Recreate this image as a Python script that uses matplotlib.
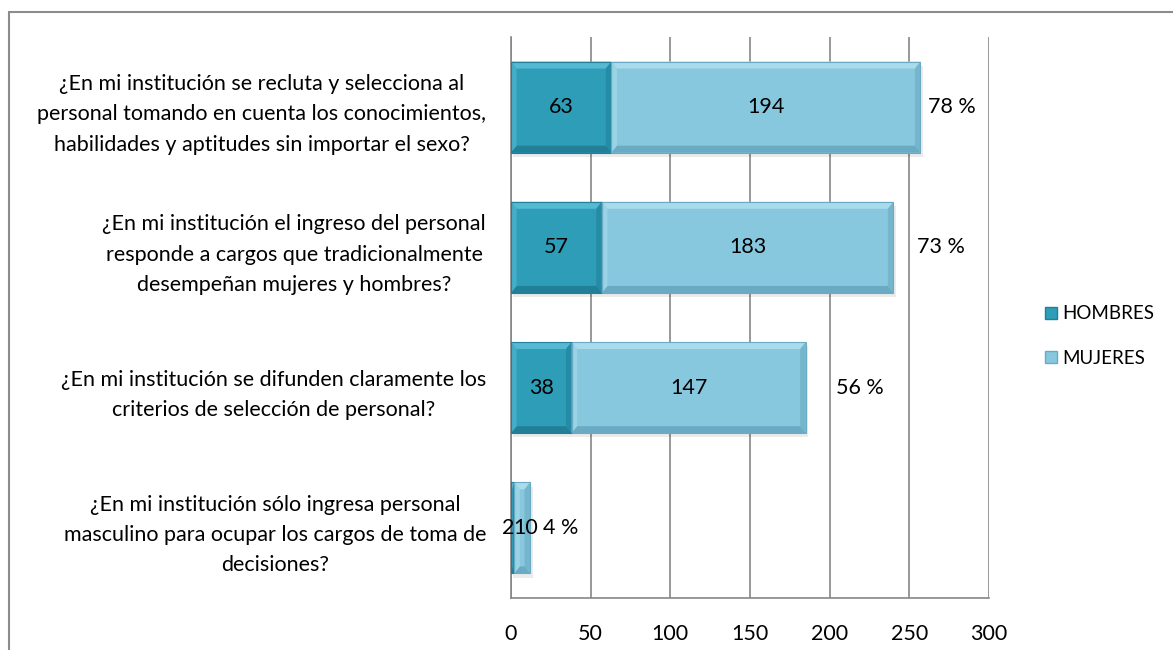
import matplotlib
matplotlib.use("Agg")
import matplotlib.pyplot as plt
from matplotlib.patches import Rectangle, Polygon, Patch
import numpy as np

categories = [
    "¿En mi institución se recluta y selecciona al\npersonal tomando en cuenta los conocimientos,\nhabilidades y aptitudes sin importar el sexo?",
    "¿En mi institución el ingreso del personal\nresponde a cargos que tradicionalmente\ndesempeñan mujeres y hombres?",
    "¿En mi institución se difunden claramente los\ncriterios de selección de personal?",
    "¿En mi institución sólo ingresa personal\nmasculino para ocupar los cargos de toma de\ndecisiones?",
]
hombres = [63, 57, 38, 2]
mujeres = [194, 183, 147, 10]
porcentajes = ["78 %", "73 %", "56 %", "4 %"]
pct_offsets = [20, 30, 34, 19]
h_label_shift = [0, 0, 0, -3]
m_label_shift = [0, 0, 0, 2]
xticks = [0, 50, 100, 150, 200, 250, 300]

plt.rcParams['font.family'] = ['Lato', 'DejaVu Sans']
FS = 15.5

fig = plt.figure(figsize=(11.73, 6.5), dpi=100)
ax = fig.add_axes([511/1173, 1-598/650, (989-511)/1173, (598-37)/650])

y = np.arange(len(categories))
h = 0.65
c_h = "#2E9DB8"
c_m = "#88C8DE"

def bevel(x0, w, yc, hh, base, light, dark):
    ax.add_patch(Rectangle((x0, yc-hh/2), w, hh, facecolor=base, edgecolor="none", zorder=3))
    bx = min(3.5, w/2)
    by = 0.05
    y0, y1 = yc-hh/2, yc+hh/2
    x1 = x0 + w
    ax.add_patch(Polygon([(x0, y0), (x1, y0), (x1-bx, y0+by), (x0+bx, y0+by)], closed=True,
                         facecolor=light, edgecolor="none", zorder=4))
    ax.add_patch(Polygon([(x0, y1), (x1, y1), (x1-bx, y1-by), (x0+bx, y1-by)], closed=True,
                         facecolor=dark, edgecolor="none", zorder=4))
    ax.add_patch(Polygon([(x0, y0), (x0+bx, y0+by), (x0+bx, y1-by), (x0, y1)], closed=True,
                         facecolor=light, edgecolor="none", zorder=4, alpha=0.6))
    ax.add_patch(Polygon([(x1, y0), (x1-bx, y0+by), (x1-bx, y1-by), (x1, y1)], closed=True,
                         facecolor=dark, edgecolor="none", zorder=4, alpha=0.6))
    ax.add_patch(Rectangle((x0, y0), w, hh, facecolor="none", edgecolor=dark, lw=0.8, zorder=5))

ax.barh(y, hombres, height=h, color="none", label="HOMBRES")
ax.barh(y, mujeres, left=hombres, height=h, color="none", label="MUJERES")

for i in range(len(categories)):
    tot = hombres[i] + mujeres[i]
    ax.add_patch(Rectangle((1.5, y[i]-h/2+0.03), tot, h,
                           facecolor="#000000", alpha=0.08, edgecolor="none", zorder=2))
    bevel(0, hombres[i], y[i], h, c_h, "#55B9D2", "#217F97")
    bevel(hombres[i], mujeres[i], y[i], h, c_m, "#A8DBEC", "#6AAAC2")
    ax.text(hombres[i]/2 + h_label_shift[i], y[i], str(hombres[i]), ha="center", va="center",
            fontsize=FS, zorder=6)
    ax.text(hombres[i] + mujeres[i]/2 + m_label_shift[i], y[i], str(mujeres[i]), ha="center",
            va="center", fontsize=FS, zorder=6)
    ax.text(tot + pct_offsets[i], y[i], porcentajes[i], ha="center", va="center", fontsize=FS, zorder=6)

ax.set_xlim(0, 300)
ax.set_ylim(len(categories)-0.5, -0.5)
ax.set_xticks(xticks)
ax.set_xticklabels([str(t) for t in xticks], fontsize=FS)
ax.set_yticks(y)
ax.set_yticklabels(categories, fontsize=FS, multialignment="center", linespacing=1.65)
ax.tick_params(axis="both", length=0)
ax.tick_params(axis="x", pad=18.5)
ax.tick_params(axis="y", pad=18)
ax.grid(axis="x", color="#868686", lw=1.2)
ax.set_axisbelow(True)
for s in ["top", "right"]:
    ax.spines[s].set_visible(False)
for s in ["left", "bottom"]:
    ax.spines[s].set_color("#868686")
    ax.spines[s].set_linewidth(1.2)

handles = [Patch(facecolor=c_h, edgecolor="#217F97"), Patch(facecolor=c_m, edgecolor="#6AAAC2")]
fig.legend(handles, ["HOMBRES", "MUJERES"], loc="center left", bbox_to_anchor=(1045/1173, 1-336/650),
           frameon=False, fontsize=13.5, handlelength=0.65, handleheight=0.65, handletextpad=0.25,
           labelspacing=1.45, borderpad=0, borderaxespad=0)

fig.patches.append(Rectangle((9/1173, -0.1), 1.2, 1-12/650+0.1, transform=fig.transFigure,
                             facecolor="none", edgecolor="#8C8C8C", lw=1.5, zorder=0))

fig.savefig("out.png", dpi=100)
